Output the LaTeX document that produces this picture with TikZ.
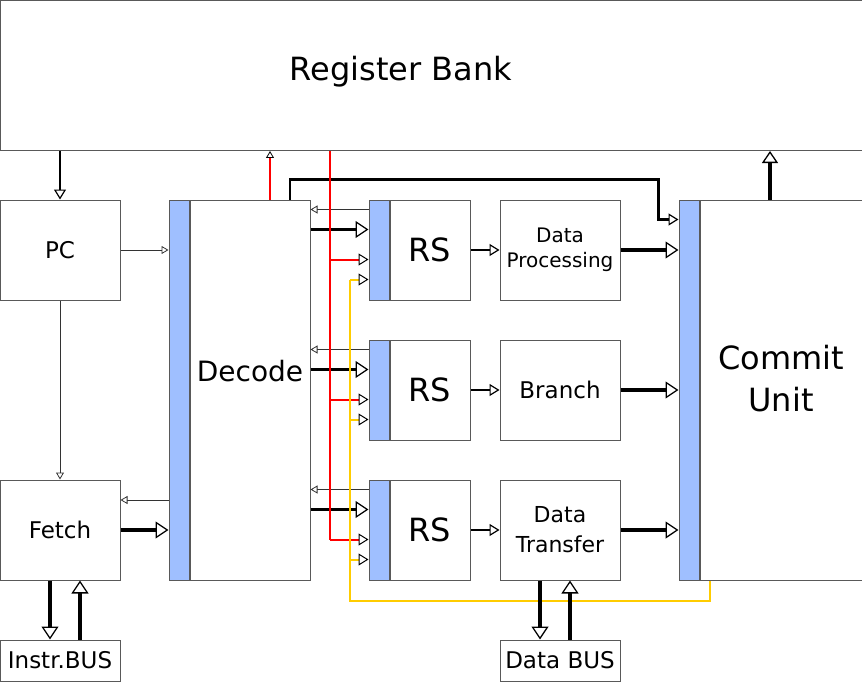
\documentclass[tikz,border=0pt]{standalone}
\usepackage{fontspec}
\setmainfont{DejaVu Sans}
\usetikzlibrary{arrows.meta,calc}
\definecolor{barblue}{HTML}{9FBFFF}
\definecolor{busyellow}{HTML}{FFCC00}
\tikzset{
	unit/.style={draw=black!65, line width=1pt, fill=white, inner sep=0pt, align=center, minimum width=120, minimum height=100, font=\fontsize{23}{30}\selectfont},
	bar/.style={draw=black!65, line width=1pt, fill=barblue, inner sep=0pt, minimum width=20, minimum height=#1},
	bar/.default=100,
	bigtext/.style={font=\fontsize{32}{42}\selectfont},
	thinarr/.style={draw=black!80, line width=0.9pt, -{Triangle[open, length=7pt, width=8pt, line width=0.8pt]}},
	midarr/.style={line width=2.2pt, -{Triangle[open, length=10pt, width=12pt, line width=1.2pt]}},
	busarr/.style={line width=3.4pt, -{Triangle[open, length=13pt, width=17pt, line width=1.3pt]}},
	sigarr/.style={line width=2pt, -{Triangle[open, length=10pt, width=12pt, line width=1pt, black]}},
}

\begin{document}
\begin{tikzpicture}[x=1pt, y=-1pt]
		%%%%% START %%%%%
		\useasboundingbox (0,0) rectangle (862,682);
		
		\node[unit, minimum width=862, minimum height=150, anchor=north west] (reg) at (0,0) {};
		\node[bigtext] (regname) at (401,72) {Register Bank};
		
		\node[unit] (pc) at (60,250) {PC};
		\node[unit] (fetch) at (60,530) {Fetch};
		\node[unit, minimum height=41] (ibus) at (60,660.5) {Instr.BUS};
		
		\node[unit, minimum height=380] (dec) at (250,390) {};
		\node[bar=380, anchor=north east] (decbar) at (dec.north west) {};
		\node[font=\fontsize{28}{34}\selectfont] (decname) at (250,371) {Decode};
		
		\foreach \i/\y in {1/250,2/390,3/530} {
			\node[unit, minimum width=80, bigtext] (rs\i) at (430,\y) {RS};
			\node[bar, anchor=north east] (rsbar\i) at (rs\i.north west) {};
			\path (rsbar\i.north west) ++(0,10) coordinate (fb\i) ++(0,20) coordinate (op\i)
				++(0,30) coordinate (rd\i) ++(0,20) coordinate (ye\i);
		}
		
		\node[unit, font=\fontsize{20}{25}\selectfont] (dp) at (560,250) {Data\\Processing};
		\node[unit] (br) at (560,390) {Branch};
		\node[unit, font=\fontsize{22}{30}\selectfont] (dt) at (560,530) {Data\\Transfer};
		\node[unit, minimum height=41] (dbus) at (560,660.5) {Data BUS};
		
		\node[unit, minimum width=162, minimum height=380] (commit) at (781,390) {};
		\node[bar=380, anchor=north east] (cbar) at (commit.north west) {};
		\node[bigtext, align=center] (commitname) at (781,379) {Commit\\Unit};
		
		\coordinate (redx) at (330,0);
		\coordinate (yelx) at (350,0);
		\coordinate (cin) at ([yshift=-20pt]cbar.north west);
		\path ([yshift=30pt]fetch.east) coordinate (fback);
		
		% front end
		\draw[midarr] (reg.south -| pc.north) -- (pc.north);
		\draw[thinarr] (pc.east) -- (pc.east -| decbar.west);
		\draw[thinarr] (pc.south) -- (fetch.north);
		\draw[thinarr] (fback -| decbar.west) -- (fback);
		\draw[busarr] (fetch.east) -- (fetch.east -| decbar.west);
		\draw[busarr] ([xshift=-10pt]fetch.south) -- ([xshift=-10pt]ibus.north);
		\draw[busarr] ([xshift=20pt]ibus.north) -- ([xshift=20pt]fetch.south);
		
		% decode to reservation stations
		\draw[red, line width=2pt, -{Triangle[open, length=7pt, width=8pt, line width=0.8pt, black]}] ([xshift=20pt]dec.north) -- ([xshift=20pt]dec.north |- reg.south);
		\draw[midarr] ([xshift=40pt]dec.north) -- ++(0,-20) -| ([xshift=-20pt]cin) -- (cin);
		\foreach \i in {1,2,3} {
			\draw[thinarr] (fb\i) -- (fb\i -| dec.east);
			\draw[busarr] (op\i -| dec.east) -- (op\i);
		}
		\draw[red, line width=2pt] (reg.south -| redx) -- (rd3 -| redx);
		\foreach \i in {1,2,3}
			\draw[red, sigarr] (rd\i -| redx) -- (rd\i);
		\draw[busyellow, line width=2pt] ([xshift=10pt]cbar.south east) -- ++(0,20) -| (ye1 -| yelx);
		\foreach \i in {1,2,3}
			\draw[busyellow, sigarr] (ye\i -| yelx) -- (ye\i);
		
		% execution and commit
		\draw[midarr] (rs1.east) -- (dp.west);
		\draw[midarr] (rs2.east) -- (br.west);
		\draw[midarr] (rs3.east) -- (dt.west);
		\foreach \u in {dp,br,dt}
			\draw[busarr] (\u.east) -- (\u.east -| cbar.west);
		\draw[busarr] ([xshift=-20pt]dt.south) -- ([xshift=-20pt]dbus.north);
		\draw[busarr] ([xshift=10pt]dbus.north) -- ([xshift=10pt]dt.south);
		\draw[busarr, -{Triangle[open, length=12pt, width=16pt, line width=1.3pt]}] ([xshift=-11pt]commit.north) -- ([xshift=-11pt]commit.north |- reg.south);
		
		%%%%% END %%%%%
	\end{tikzpicture}
\end{document}
